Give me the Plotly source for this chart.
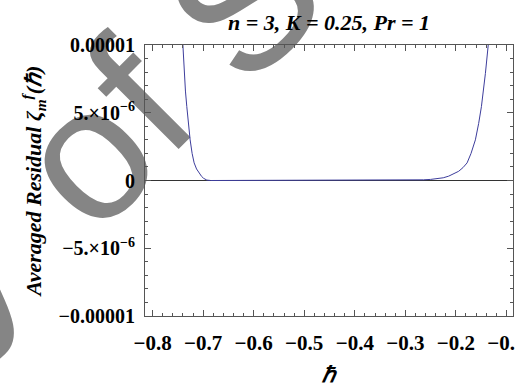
import plotly.graph_objects as go

# ---- data ----
hbar = [-0.7445, -0.7402, -0.7376, -0.7350, -0.7323, -0.7290, -0.7257, -0.7218, -0.7178,
        -0.7130, -0.7079, -0.7030, -0.6990, -0.6927, -0.6850, -0.60, -0.50, -0.40, -0.30,
        -0.2644, -0.2500, -0.2372, -0.2250, -0.2143, -0.2040, -0.1945, -0.1860, -0.1778,
        -0.1700, -0.1614, -0.1550, -0.1495, -0.1416, -0.1350, -0.1320]
resid = [1.30e-5, 1.00e-5, 7.90e-6, 6.60e-6, 5.45e-6, 4.10e-6, 3.00e-6, 2.00e-6, 1.30e-6,
         0.85e-6, 0.55e-6, 0.30e-6, 0.16e-6, 0.03e-6, 0.0, 0.0, 0.0, 0.0, 0.0,
         0.05e-6, 0.08e-6, 0.12e-6, 0.20e-6, 0.32e-6, 0.48e-6, 0.68e-6, 0.95e-6, 1.30e-6,
         2.00e-6, 3.00e-6, 4.20e-6, 5.45e-6, 7.90e-6, 1.00e-5, 1.15e-5]

x_tickvals = [-0.8, -0.7, -0.6, -0.5, -0.4, -0.3, -0.2, -0.1]
x_ticktext = ["\u22120.8", "\u22120.7", "\u22120.6", "\u22120.5", "\u22120.4", "\u22120.3", "\u22120.2", "\u22120.1"]
y_tickvals = [1e-5, 5e-6, 0, -5e-6, -1e-5]
y_ticktext = ["0.00001", "5.\u00d710<sup>\u22126</sup>", "0", "\u22125.\u00d710<sup>\u22126</sup>", "\u22120.00001"]

title_text = "n = 3, K = 0.25, Pr = 1"
y_title = "Averaged Residual \u03b6<sub>m</sub><sup>f</sup>(\u210f)"
x_title = "\u210f"

# watermark letters ("Copy of S..."), partially visible
wm_letters = ["y", "o", "f", "S"]
wm_x = [-0.560, -0.198, -0.0516, 0.2335]
wm_y = [0.259, 0.639, 0.860, 1.207]

serif = "Liberation Serif, Times New Roman, serif"
frame = "#555555"

fig = go.Figure()
fig.add_trace(go.Scatter(x=hbar, y=resid, mode="lines",
                         line=dict(color="#3d3d9c", width=1), showlegend=False))

fig.update_layout(
    width=515, height=387,
    margin=dict(l=145, r=2, t=45, b=71, autoexpand=False),
    paper_bgcolor="white", plot_bgcolor="white",
    font=dict(family=serif, color="black"),
    title=dict(text="<b><i>" + title_text + "</i></b>", x=329/515, xanchor="center",
               y=1 - 22/387, yanchor="middle", font=dict(size=22, family=serif)),
)

fig.update_xaxes(range=[-0.815, -0.087], showgrid=False, zeroline=False, automargin=False,
                 showline=True, linecolor=frame, linewidth=1, mirror="allticks",
                 tickmode="array", tickvals=x_tickvals, ticktext=x_ticktext,
                 ticks="inside", ticklen=6, tickcolor=frame, tickwidth=1,
                 tickfont=dict(size=21, family=serif, weight="bold"),
                 ticklabelstandoff=8, ticklabeloverflow="allow",
                 minor=dict(tickmode="linear", tick0=-0.8, dtick=0.02, ticks="inside",
                            ticklen=3, tickcolor=frame, tickwidth=1, showgrid=False),
                 title=dict(text="<b><i>" + x_title + "</i></b>", font=dict(size=22, family=serif),
                            standoff=20))

fig.update_yaxes(range=[-1e-5, 1e-5], showgrid=False, automargin=False,
                 zeroline=True, zerolinecolor="#333333", zerolinewidth=1,
                 showline=True, linecolor=frame, linewidth=1, mirror="allticks",
                 tickmode="array", tickvals=y_tickvals, ticktext=y_ticktext,
                 ticks="inside", ticklen=6, tickcolor=frame, tickwidth=1,
                 tickfont=dict(size=20, family=serif, weight="bold"),
                 ticklabelstandoff=5,
                 minor=dict(tickmode="linear", tick0=0, dtick=1e-6, ticks="inside",
                            ticklen=3, tickcolor=frame, tickwidth=1, showgrid=False),
                 title=dict(text="<b><i>" + y_title + "</i></b>", font=dict(size=22, family=serif),
                            standoff=10))

# ---- watermark letters (drawn beneath everything) ----
for ch, cx, cy in zip(wm_letters, wm_x, wm_y):
    fig.add_shape(type="rect", xref="paper", yref="paper",
                  x0=cx - 0.005, x1=cx + 0.005, y0=cy - 0.005, y1=cy + 0.005,
                  line=dict(width=0), fillcolor="rgba(0,0,0,0)", layer="below",
                  label=dict(text=ch, textposition="middle center", textangle=-45,
                             font=dict(size=190, family="Liberation Sans, Arial, sans-serif",
                                       color="#858585")))

fig.write_html("out.html")
